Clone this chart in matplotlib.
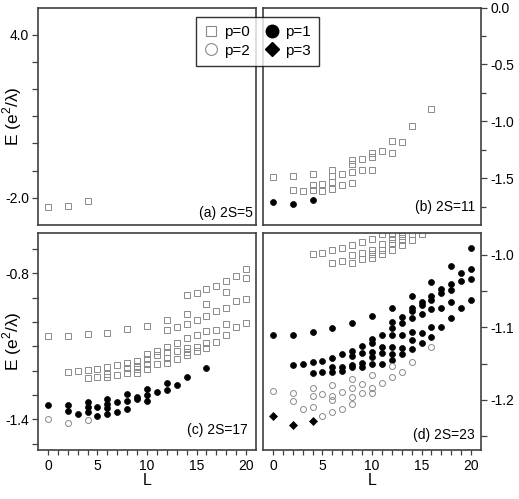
import matplotlib
matplotlib.use("Agg")
import matplotlib.pyplot as plt
from matplotlib.lines import Line2D

plt.rcParams["font.family"] = ["Liberation Sans", "DejaVu Sans"]
plt.rcParams["mathtext.fontset"] = "custom"
plt.rcParams["mathtext.rm"] = "Liberation Sans"
plt.rcParams["axes.unicode_minus"] = False

# ---- data: angular momentum L and energy E for each parity p ----
# (a) 2S=5
a_p0_L = [0, 2, 4]
a_p0_E = [-2.32, -2.29, -2.12]

# (b) 2S=11
b_p0_L = [0, 2, 2, 3, 4, 4, 4, 5, 5, 6, 6, 6, 6, 7, 7, 8, 8, 8, 8, 9, 9,
          10, 10, 10, 11, 12, 12, 13, 14, 16]
b_p0_E = [-1.49, -1.48, -1.60, -1.61, -1.46, -1.56, -1.605, -1.547, -1.614,
          -1.43, -1.48, -1.53, -1.59, -1.46, -1.56, -1.342, -1.371, -1.445,
          -1.54, -1.33, -1.424, -1.278, -1.313, -1.424, -1.263, -1.173,
          -1.278, -1.18, -1.044, -0.889]
b_p1_L = [0, 2, 4]
b_p1_E = [-1.708, -1.728, -1.693]

# (c) 2S=17
c_p0_L = [0, 2, 2, 3, 4, 4, 4, 5, 5, 6, 6, 6, 6, 7, 7, 8, 8, 8, 8,
          9, 9, 9, 9, 10, 10, 10, 10, 10, 11, 11, 11,
          12, 12, 12, 12, 12, 12, 13, 13, 13, 13,
          14, 14, 14, 14, 14, 14, 14, 15, 15, 15, 15, 15,
          16, 16, 16, 16, 16, 16, 17, 17, 17, 17, 18, 18, 18, 18, 18,
          19, 19, 19, 20, 20, 20, 20]
c_p0_E = [-1.056, -1.056, -1.204, -1.201, -1.051, -1.197, -1.232, -1.193, -1.227,
          -1.044, -1.184, -1.215, -1.227, -1.178, -1.216,
          -1.029, -1.167, -1.189, -1.208,
          -1.159, -1.179, -1.193, -1.208,
          -1.015, -1.132, -1.151, -1.173, -1.195,
          -1.119, -1.137, -1.174,
          -0.993, -1.032, -1.101, -1.122, -1.149, -1.167,
          -1.022, -1.088, -1.119, -1.152,
          -0.889, -0.966, -1.008, -1.064, -1.108, -1.122, -1.137,
          -0.879, -0.992, -1.053, -1.101, -1.118,
          -0.864, -0.927, -0.977, -1.036, -1.088, -1.108,
          -0.851, -0.955, -1.034, -1.084,
          -0.830, -0.875, -0.941, -1.007, -1.053,
          -0.810, -0.914, -1.019,
          -0.782, -0.818, -0.907, -1.005]
c_p1_L = [0, 2, 2, 3, 4, 4, 4, 5, 5, 6, 6, 6, 6, 7, 7, 8, 8, 8, 9, 9,
          10, 10, 10, 11, 12, 12, 13, 14, 16]
c_p1_E = [-1.341, -1.341, -1.366, -1.378, -1.330, -1.351, -1.371, -1.348, -1.386,
          -1.318, -1.338, -1.355, -1.378, -1.329, -1.368, -1.297, -1.323, -1.356,
          -1.310, -1.315, -1.275, -1.301, -1.326, -1.288, -1.252, -1.279,
          -1.260, -1.225, -1.188]
c_p2_L = [0, 2, 4]
c_p2_E = [-1.399, -1.416, -1.403]

# (d) 2S=23
d_p0_L = [4, 5, 6, 6, 7, 7, 8, 8, 8, 9, 9, 9, 10, 10, 10, 10,
          11, 11, 11, 11, 12, 12, 12, 12, 13, 13, 13, 13, 14, 14, 15]
d_p0_E = [-0.999, -0.997, -0.994, -1.012, -0.991, -1.009, -0.987, -1.000, -1.012,
          -0.983, -0.998, -1.006, -0.978, -0.993, -0.999, -1.004,
          -0.972, -0.985, -0.993, -0.999, -0.971, -0.978, -0.984, -0.994,
          -0.969, -0.974, -0.979, -0.986, -0.972, -0.979, -0.971]
d_p1_L = [0, 2, 2, 3, 4, 4, 4, 5, 5, 6, 6, 6, 6, 7, 7, 7, 8, 8, 8, 8, 8,
          9, 9, 9, 9, 10, 10, 10, 10, 10, 10, 11, 11, 11, 11,
          12, 12, 12, 12, 12, 12, 12, 13, 13, 13, 13, 13,
          14, 14, 14, 14, 14, 14, 14, 15, 15, 15, 15, 15,
          16, 16, 16, 16, 16, 16, 17, 17, 17, 17, 18, 18, 18, 18, 18,
          19, 19, 19, 20, 20, 20, 20]
d_p1_E = [-1.111, -1.110, -1.152, -1.150, -1.107, -1.148, -1.163, -1.146, -1.162,
          -1.101, -1.142, -1.154, -1.162, -1.137, -1.154, -1.160,
          -1.094, -1.132, -1.139, -1.152, -1.155,
          -1.126, -1.136, -1.149, -1.155,
          -1.085, -1.116, -1.121, -1.134, -1.141, -1.151,
          -1.110, -1.127, -1.136, -1.151,
          -1.073, -1.093, -1.101, -1.111, -1.127, -1.137, -1.145,
          -1.086, -1.094, -1.110, -1.128, -1.137,
          -1.057, -1.073, -1.078, -1.087, -1.106, -1.118, -1.130,
          -1.065, -1.069, -1.082, -1.108, -1.121,
          -1.037, -1.057, -1.063, -1.075, -1.099, -1.113,
          -1.047, -1.053, -1.074, -1.100,
          -1.015, -1.040, -1.049, -1.065, -1.087,
          -1.025, -1.036, -1.074,
          -0.990, -1.020, -1.034, -1.062]
d_p2_L = [0, 2, 2, 3, 4, 4, 4, 5, 5, 6, 6, 6, 6, 7, 7, 8, 8, 8, 8,
          9, 9, 10, 10, 10, 11, 12, 12, 13, 14, 16]
d_p2_E = [-1.188, -1.190, -1.202, -1.213, -1.184, -1.194, -1.210, -1.192, -1.222,
          -1.180, -1.194, -1.200, -1.217, -1.189, -1.213,
          -1.171, -1.184, -1.196, -1.205, -1.178, -1.190,
          -1.166, -1.184, -1.190, -1.177, -1.153, -1.168, -1.161, -1.148, -1.127]
d_p3_L = [0, 2, 4]
d_p3_E = [-1.222, -1.235, -1.229]

labels = ["p=0", "p=2", "p=1", "p=3"]

GRAY = "#8a8a8a"
FRAME = "#404040"
sty = {
    0: dict(marker="s", mfc="none", mec=GRAY, ms=4.2, mew=0.7),
    1: dict(marker="o", mfc="black", mec="black", ms=4.3, mew=0.5),
    2: dict(marker="o", mfc="none", mec=GRAY, ms=4.3, mew=0.7),
    3: dict(marker="D", mfc="black", mec="black", ms=4.0, mew=0.5),
}

fig = plt.figure(figsize=(5.19, 4.99), dpi=100)
W, H = 519.0, 499.0


def make_ax(left, top, right, bottom):
    return fig.add_axes([left / W, 1 - bottom / H, (right - left) / W, (bottom - top) / H])


ax_a = make_ax(38, 7.5, 256, 225)
ax_b = make_ax(263, 7.5, 481, 225)
ax_c = make_ax(38, 233, 256, 450)
ax_d = make_ax(263, 233, 481, 450)

for ax in (ax_a, ax_b, ax_c, ax_d):
    for s in ax.spines.values():
        s.set_color(FRAME)
        s.set_linewidth(1.2)
    ax.set_xlim(-1, 21)
    ax.tick_params(direction="out", width=0.9, color=FRAME, labelsize=10)
    ax.tick_params(axis="y", length=4.5, pad=2)
    ax.tick_params(axis="x", length=3.6, pad=3)


def draw(ax, L, E, p):
    ax.plot(L, E, linestyle="none", **sty[p])


draw(ax_a, a_p0_L, a_p0_E, 0)
draw(ax_b, b_p0_L, b_p0_E, 0)
draw(ax_b, b_p1_L, b_p1_E, 1)
draw(ax_c, c_p0_L, c_p0_E, 0)
draw(ax_c, c_p1_L, c_p1_E, 1)
draw(ax_c, c_p2_L, c_p2_E, 2)
draw(ax_d, d_p0_L, d_p0_E, 0)
draw(ax_d, d_p1_L, d_p1_E, 1)
draw(ax_d, d_p2_L, d_p2_E, 2)
draw(ax_d, d_p3_L, d_p3_E, 3)

# x axes
for ax in (ax_a, ax_b):
    ax.set_xticks([])
for ax in (ax_c, ax_d):
    ax.set_xticks(range(0, 21))
    ax.set_xticklabels([str(i) if i % 5 == 0 else "" for i in range(0, 21)])
    ax.set_xlabel("L", fontsize=11.5, labelpad=0)

# (a)
ax_a.set_ylim(-3.0, 5.0)
ya = [4, 3, 2, 1, 0, -1, -2]
ax_a.set_yticks(ya)
ax_a.set_yticklabels(["4.0", "", "", "", "", "", "-2.0"])

# (b)
ax_b.set_ylim(-1.91, 0.0)
ax_b.yaxis.tick_right()
ax_b.set_yticks([0.0, -0.5, -1.0, -1.5])
ax_b.set_yticklabels(["0.0", "-0.5", "-1.0", "-1.5"])
ax_b.set_yticks([-0.25, -0.75, -1.25, -1.75], minor=True)
ax_b.tick_params(axis="y", which="minor", length=3.6, width=0.9, color=FRAME)

# (c)
ax_c.set_ylim(-1.526, -0.634)
yc = [-0.7, -0.8, -0.9, -1.0, -1.1, -1.2, -1.3, -1.4, -1.5]
ax_c.set_yticks(yc)
ax_c.set_yticklabels(["", "-0.8", "", "", "", "", "", "-1.4", ""])

# (d)
ax_d.set_ylim(-1.269, -0.970)
ax_d.yaxis.tick_right()
yd = [-1.0, -1.05, -1.1, -1.15, -1.2, -1.25]
ax_d.set_yticks(yd)
ax_d.set_yticklabels(["-1.0", "", "-1.1", "", "-1.2", ""])

for ax in (ax_a, ax_c):
    ax.set_ylabel("E (e$^2$/λ)", fontsize=12.5)
    ax.yaxis.set_label_coords(-0.064, 0.5)

ax_a.text(0.985, 0.025, "(a) 2S=5", transform=ax_a.transAxes, ha="right", va="bottom", fontsize=10)
ax_b.text(0.975, 0.05, "(b) 2S=11", transform=ax_b.transAxes, ha="right", va="bottom", fontsize=10)
ax_c.text(0.96, 0.06, "(c) 2S=17", transform=ax_c.transAxes, ha="right", va="bottom", fontsize=10)
ax_d.text(0.97, 0.035, "(d) 2S=23", transform=ax_d.transAxes, ha="right", va="bottom", fontsize=10)

handles = [
    Line2D([], [], linestyle="none", marker="s", mfc="none", mec=GRAY, ms=7, mew=0.8),
    Line2D([], [], linestyle="none", marker="o", mfc="none", mec=GRAY, ms=8.5, mew=0.8),
    Line2D([], [], linestyle="none", marker="o", mfc="black", mec="black", ms=9),
    Line2D([], [], linestyle="none", marker="D", mfc="black", mec="black", ms=7.5),
]
leg = fig.legend(handles, labels, ncol=2, loc="upper left",
                 bbox_to_anchor=(195.7 / W, 1 - 16.7 / H),
                 frameon=True, fancybox=False, fontsize=11,
                 handlelength=0.9, handletextpad=0.4, columnspacing=1.0,
                 labelspacing=0.3, borderpad=0.55, borderaxespad=0)
leg.get_frame().set_edgecolor("black")
leg.get_frame().set_linewidth(1.0)

fig.savefig("out.png", dpi=100)
